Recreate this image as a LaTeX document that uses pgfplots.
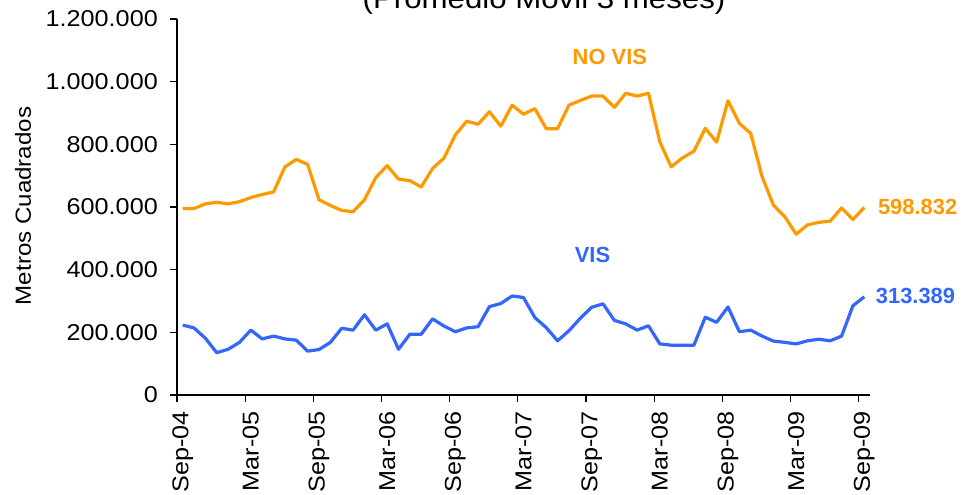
\documentclass[border=0pt]{standalone}
\usepackage{fontspec}
\setmainfont{Liberation Sans}
\newfontfamily\tickfont{Liberation Sans}[FakeStretch=1.1]
\usepackage{pgfplots}
\pgfplotsset{compat=1.18}
\definecolor{novis}{HTML}{FF9900}
\definecolor{vis}{HTML}{3366FF}
\pgfplotstableread{
i novis vis
0 595 223
1 595 214
2 610 181
3 615 135
4 610 146
5 617 168
6 630 207
7 640 179
8 648 188
9 728 179
10 752 175
11 736 140
12 623 145
13 605 168
14 589 213
15 585 207
16 623 256
17 694 207
18 732 227
19 689 146
20 684 194
21 664 194
22 723 243
23 756 220
24 830 202
25 874 214
26 864 218
27 904 282
28 858 292
29 925 316
30 896 311
31 914 247
32 850 215
33 850 173
34 925 205
35 940 245
36 954 280
37 954 291
38 918 238
39 963 227
40 954 207
41 963 221
42 808 163
43 728 159
44 757 159
45 778 159
46 851 248
47 807 232
48 939 281
49 867 202
50 835 207
51 697 188
52 606 172
53 569 168
54 513 163
55 543 173
56 551 178
57 555 173
58 597 188
59 560 285
60 598.832 313.389
}\datatable
\begin{document}
\begin{tikzpicture}
\begin{axis}[
  at={(177bp,100bp)}, anchor=south west,
  scale only axis, width=693bp, height=376bp,
  xmin=-0.5, xmax=60.5, ymin=0, ymax=1200,
  axis lines=left,
  axis line style={-, line width=1.2bp, black},
  tick align=outside,
  xtick={0,6,...,60},
  xticklabels={Sep-04,Mar-05,Sep-05,Mar-06,Sep-06,Mar-07,Sep-07,Mar-08,Sep-08,Mar-09,Sep-09},
  major x tick style={draw=none},
  minor xtick={-0.5,5.5,...,59.5},
  minor tick length=7bp,
  major tick length=7bp,
  ytick={0,200,...,1200},
  yticklabels={0,200.000,400.000,600.000,800.000,1.000.000,1.200.000},
  tick style={black, line width=1.2bp},
  xticklabel shift=9bp,
  yticklabel shift=12bp,
  xticklabel style={rotate=90, anchor=east, inner sep=0pt,
    font=\tickfont\fontsize{23}{27}\selectfont},
  yticklabel style={anchor=east, inner sep=0pt,
    font=\tickfont\fontsize{23}{27}\selectfont},
  clip=false,
]
\addplot[novis, line width=3.2bp, line join=round] table[x=i, y=novis] {\datatable};
\addplot[vis, line width=3.2bp, line join=round] table[x=i, y=vis] {\datatable};
\node[anchor=center, inner sep=0pt, text=novis, font=\bfseries\fontsize{22}{26}\selectfont] at (axis cs:37.6,1078.7) {NO VIS};
\node[anchor=center, inner sep=0pt, text=vis, font=\bfseries\fontsize{22}{26}\selectfont] at (axis cs:36.07,446.8) {VIS};
\node[anchor=west, inner sep=0pt, text=novis, font=\bfseries\fontsize{22}{26}\selectfont] at (axis cs:61.19,600) {598.832};
\node[anchor=west, inner sep=0pt, text=vis, font=\bfseries\fontsize{22}{26}\selectfont] at (axis cs:61.0,316) {313.389};
\end{axis}
\node[anchor=base, inner sep=0pt, font=\tickfont\fontsize{28.5}{32}\selectfont] at (544bp,486.5bp) {(Promedio Movil 3 meses)};
\node[rotate=90, anchor=center, inner sep=0pt, font=\tickfont\fontsize{22}{26}\selectfont] at (23bp,289bp) {Metros Cuadrados};
\pgfresetboundingbox
\path[use as bounding box] (0,0) rectangle (967bp,495bp);
\end{tikzpicture}
\end{document}
